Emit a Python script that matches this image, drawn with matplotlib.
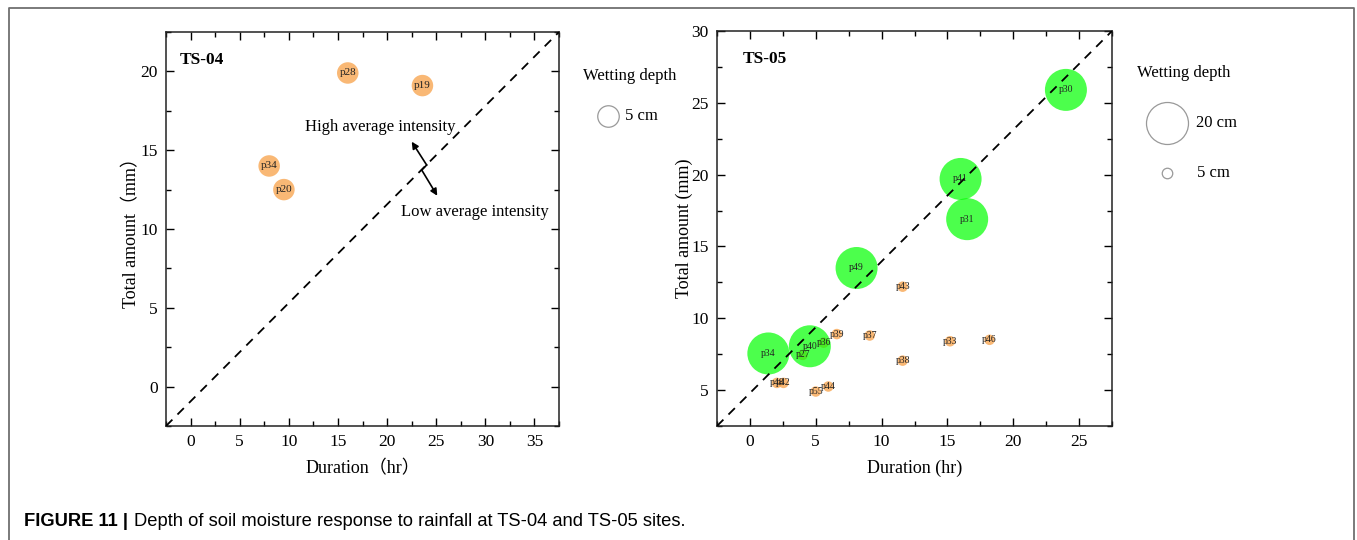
"""Figure 11: depth of soil moisture response to rainfall at TS-04 and TS-05."""
import matplotlib.pyplot as plt
from matplotlib.ticker import MultipleLocator

plt.rcParams['font.family'] = ['Liberation Serif', 'Noto Sans CJK SC']

# TS-04 events (duration hr, total amount mm, wetting depth cm)
ts04_label = ['p28', 'p19', 'p34', 'p20']
ts04_dur = [16.0, 23.6, 8.0, 9.5]
ts04_amt = [19.9, 19.1, 14.0, 12.5]
ts04_depth = [5, 5, 5, 5]

# TS-05 events
ts05_label = ['p27', 'p36', 'p39', 'p37', 'p43', 'p33', 'p46', 'p38',
              'p48', 'p42', 'p55', 'p44',
              'p30', 'p41', 'p31', 'p49', 'p34', 'p40']
ts05_dur = [4.0, 5.6, 6.6, 9.1, 11.6, 15.2, 18.2, 11.6,
            2.05, 2.55, 5.0, 5.95,
            24.0, 16.0, 16.5, 8.1, 1.4, 4.55]
ts05_amt = [7.45, 8.3, 8.9, 8.8, 12.2, 8.4, 8.5, 7.05,
            5.5, 5.5, 4.9, 5.25,
            25.9, 19.7, 16.9, 13.5, 7.55, 8.05]
ts05_depth = [5, 5, 5, 5, 5, 5, 5, 5,
              5, 5, 5, 5,
              20, 20, 20, 20, 20, 20]

W, H, DPI = 1357, 540, 100
ORANGE = '#F7A047'
GREEN = '#00FF00'


def msize(depth, px_per_cm):
    d_pt = depth * px_per_cm * 72 / DPI
    return d_pt ** 2


def style_axes(ax):
    ax.xaxis.set_major_locator(MultipleLocator(5))
    ax.xaxis.set_minor_locator(MultipleLocator(2.5))
    ax.yaxis.set_major_locator(MultipleLocator(5))
    ax.yaxis.set_minor_locator(MultipleLocator(2.5))
    ax.tick_params(which='both', direction='in', top=True, right=True,
                   width=1.0, labelsize=12.5, pad=6)
    ax.tick_params(which='major', length=6)
    ax.tick_params(which='minor', length=3.5)
    for sp in ax.spines.values():
        sp.set_linewidth(1.1)
        sp.set_color('#222222')


def bubbles(ax, dur, amt, depth, labels, px_per_cm, fs):
    cols = [GREEN if d >= 20 else ORANGE for d in depth]
    alph = [0.7 if d >= 20 else 0.75 for d in depth]
    order = sorted(range(len(dur)), key=lambda i: depth[i])
    for i in order:
        ax.scatter(dur[i], amt[i], s=msize(depth[i], px_per_cm), color=cols[i],
                   alpha=alph[i], edgecolors='none', zorder=2 + depth[i] / 100)
    for x, y, t in zip(dur, amt, labels):
        ax.text(x, y, t, ha='center', va='center', fontsize=fs,
                color='#222222', zorder=5)


fig = plt.figure(figsize=(W / DPI, H / DPI), dpi=DPI)

# overlay in pixel coordinates for frame, legends and caption
ov = fig.add_axes([0, 0, 1, 1])
ov.set_xlim(0, W)
ov.set_ylim(H, 0)
ov.axis('off')
ov.plot([9, 9, 1354, 1354], [H + 10, 8, 8, H + 10], color='#6f6f6f',
        lw=1.3, clip_on=False)

ax1 = fig.add_axes([166 / W, 1 - 426 / H, 393 / W, 394 / H])
ax2 = fig.add_axes([717 / W, 1 - 426 / H, 395 / W, 395 / H])

# ---- TS-04
ax1.set_xlim(-2.5, 37.5)
ax1.set_ylim(-2.5, 22.5)
style_axes(ax1)
bubbles(ax1, ts04_dur, ts04_amt, ts04_depth, ts04_label, 4.3, 8)
ax1.plot([0, 1], [0, 1], transform=ax1.transAxes, color='k', lw=1.3,
         ls=(0, (5, 4)), zorder=4)
ax1.text(0.035, 0.93, 'TS-04', transform=ax1.transAxes, fontsize=12.5,
         fontweight='bold', va='center')
ax1.text(19.3, 16.45, 'High average intensity', ha='center', va='center',
         fontsize=12)
ax1.text(28.95, 11.1, 'Low average intensity', ha='center', va='center',
         fontsize=12)
ax1.plot([24.03, 23.53], [14.06, 13.74], color='k', lw=1.2, zorder=4)
ax1.annotate('', xy=(22.51, 15.54), xytext=(24.03, 14.06),
             arrowprops=dict(arrowstyle='-|>', color='k', lw=1.2,
                             mutation_scale=10, shrinkA=0, shrinkB=0))
ax1.annotate('', xy=(25.11, 12.11), xytext=(23.53, 13.74),
             arrowprops=dict(arrowstyle='-|>', color='k', lw=1.2,
                             mutation_scale=10, shrinkA=0, shrinkB=0))
ax1.set_xlabel('Duration（hr）', fontsize=13, labelpad=7)
ax1.set_ylabel('Total amount（mm）', fontsize=13, labelpad=0)

# ---- TS-05
ax2.set_xlim(-2.5, 27.5)
ax2.set_ylim(2.5, 30)
style_axes(ax2)
bubbles(ax2, ts05_dur, ts05_amt, ts05_depth, ts05_label, 2.1, 7)
ax2.plot([0, 1], [0, 1], transform=ax2.transAxes, color='k', lw=1.3,
         ls=(0, (5, 4)), zorder=4)
ax2.text(0.065, 0.93, 'TS-05', transform=ax2.transAxes, fontsize=12.5,
         fontweight='bold', va='center')
ax2.set_xlabel('Duration (hr)', fontsize=13, labelpad=7)
ax2.set_ylabel('Total amount (mm)', fontsize=13, labelpad=-1)

# ---- legends (wetting depth)
ov.text(583, 76, 'Wetting depth', fontsize=12, va='center')
ov.scatter(608, 116, s=msize(5, 4.3), facecolor='white', edgecolor='#999999',
           lw=0.9)
ov.text(625, 116, '5 cm', fontsize=12, va='center')

ov.text(1137, 73, 'Wetting depth', fontsize=12, va='center')
ov.scatter(1167, 123, s=msize(20, 2.1), facecolor='white', edgecolor='#999999',
           lw=0.9)
ov.text(1196, 123, '20 cm', fontsize=12, va='center')
ov.scatter(1167, 173, s=msize(5, 2.1), facecolor='white', edgecolor='#999999',
           lw=0.9)
ov.text(1197, 173, '5 cm', fontsize=12, va='center')

# ---- caption
t1 = ov.text(24, 522, 'FIGURE 11 |', fontfamily='Liberation Sans',
             fontweight='bold', fontsize=13.2, va='center')
ov.annotate('Depth of soil moisture response to rainfall at TS-04 and TS-05 sites.',
            xy=(1, 0.5), xycoords=t1, xytext=(4, 0), textcoords='offset points',
            fontfamily='Liberation Sans', fontsize=13.2, va='center',
            annotation_clip=False)

fig.savefig('out.png', dpi=DPI)
plt.close(fig)
print('Saved out.png')
